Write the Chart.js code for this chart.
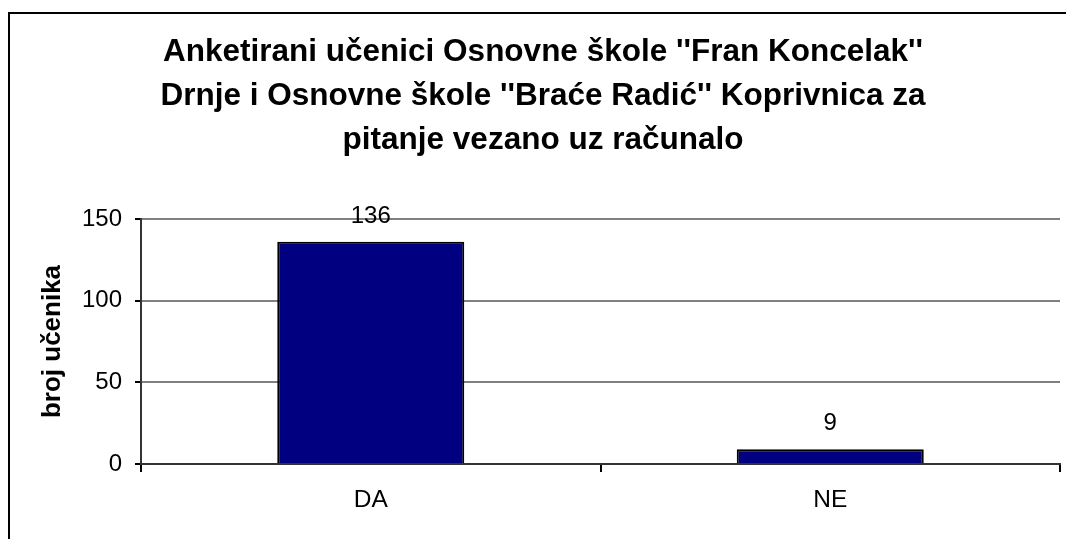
<!DOCTYPE html>
<html>
<head>
<meta charset="utf-8">
<script src="https://cdn.jsdelivr.net/npm/chart.js@4/dist/chart.umd.min.js"></script>
<style>
  html, body { margin: 0; padding: 0; background: #fff; overflow: hidden; }
  #wrap { position: relative; width: 1066px; height: 539px; }
  #frame { position: absolute; left: 8px; top: 12px; width: 1100px; height: 600px; border: 2px solid #000; box-sizing: border-box; }
  canvas { position: absolute; left: 0; top: 0; }
</style>
</head>
<body>
<div id="wrap">
  <div id="frame"></div>
  <canvas id="myChart" width="1066" height="539"></canvas>
</div>
<script>
var categories = ['DA', 'NE'];
var values = [136, 9];
var yTicks = [0, 50, 100, 150];
var titleLines = [
    'Anketirani učenici Osnovne škole \'\'Fran Koncelak\'\'',
    'Drnje i Osnovne škole \'\'Braće Radić\'\' Koprivnica za',
    'pitanje vezano uz računalo'
];
var yTitle = 'broj učenika';

var fontName = '"Liberation Sans", Arial, sans-serif';

// labels above the bars
var barLabels = {
    id: 'barLabels',
    afterDatasetsDraw: function (chart) {
        var ctx = chart.ctx;
        var meta = chart.getDatasetMeta(0);
        ctx.save();
        ctx.font = '24px ' + fontName;
        ctx.fillStyle = '#000';
        ctx.textAlign = 'center';
        ctx.textBaseline = 'alphabetic';
        meta.data.forEach(function (bar, i) {
            ctx.fillText(String(values[i]), bar.x, bar.y - 19);
        });
        ctx.restore();
    }
};

const ctx = document.getElementById('myChart');
var chart = new Chart(ctx, {
    type: 'bar',
    data: {
        labels: categories,
        datasets: [{
            data: values,
            backgroundColor: '#000080',
            borderColor: '#000',
            borderWidth: 2,
            categoryPercentage: 1,
            barPercentage: 0.407
        }]
    },
    options: {
        responsive: false,
        animation: false,
        layout: { padding: { left: 26, right: 6, top: 0, bottom: 0 } },
        plugins: {
            legend: { display: false },
            tooltip: { enabled: false },
            title: {
                display: true,
                text: titleLines,
                color: '#000',
                font: { family: fontName, size: 31.5, weight: 'bold', lineHeight: 44 / 31.5 },
                padding: { top: 30, bottom: 57 }
            }
        },
        scales: {
            x: {
                afterFit: function (scale) { scale.height = 75; },
                grid: {
                    offset: true,
                    color: function (c) { return c.index === 2 ? '#808080' : 'rgba(0,0,0,0)'; },
                    tickColor: '#000',
                    lineWidth: 2,
                    tickLength: 8
                },
                border: { color: '#333', width: 2 },
                ticks: { color: '#000', font: { family: fontName, size: 24.5 }, padding: 14 }
            },
            y: {
                min: 0,
                max: 150,
                afterFit: function (scale) { scale.width = 115; },
                afterBuildTicks: function (scale) {
                    scale.ticks = yTicks.map(function (v) { return { value: v }; });
                },
                grid: { color: '#808080', tickColor: '#000', lineWidth: 2, tickLength: 6 },
                border: { color: '#333', width: 2 },
                ticks: { color: '#000', font: { family: fontName, size: 24 }, padding: 13 },
                title: {
                    display: true,
                    text: yTitle,
                    color: '#000',
                    font: { family: fontName, size: 26, weight: 'bold' },
                    padding: { top: 11, bottom: 0 }
                }
            }
        }
    },
    plugins: [barLabels]
});
</script>
</body>
</html>
